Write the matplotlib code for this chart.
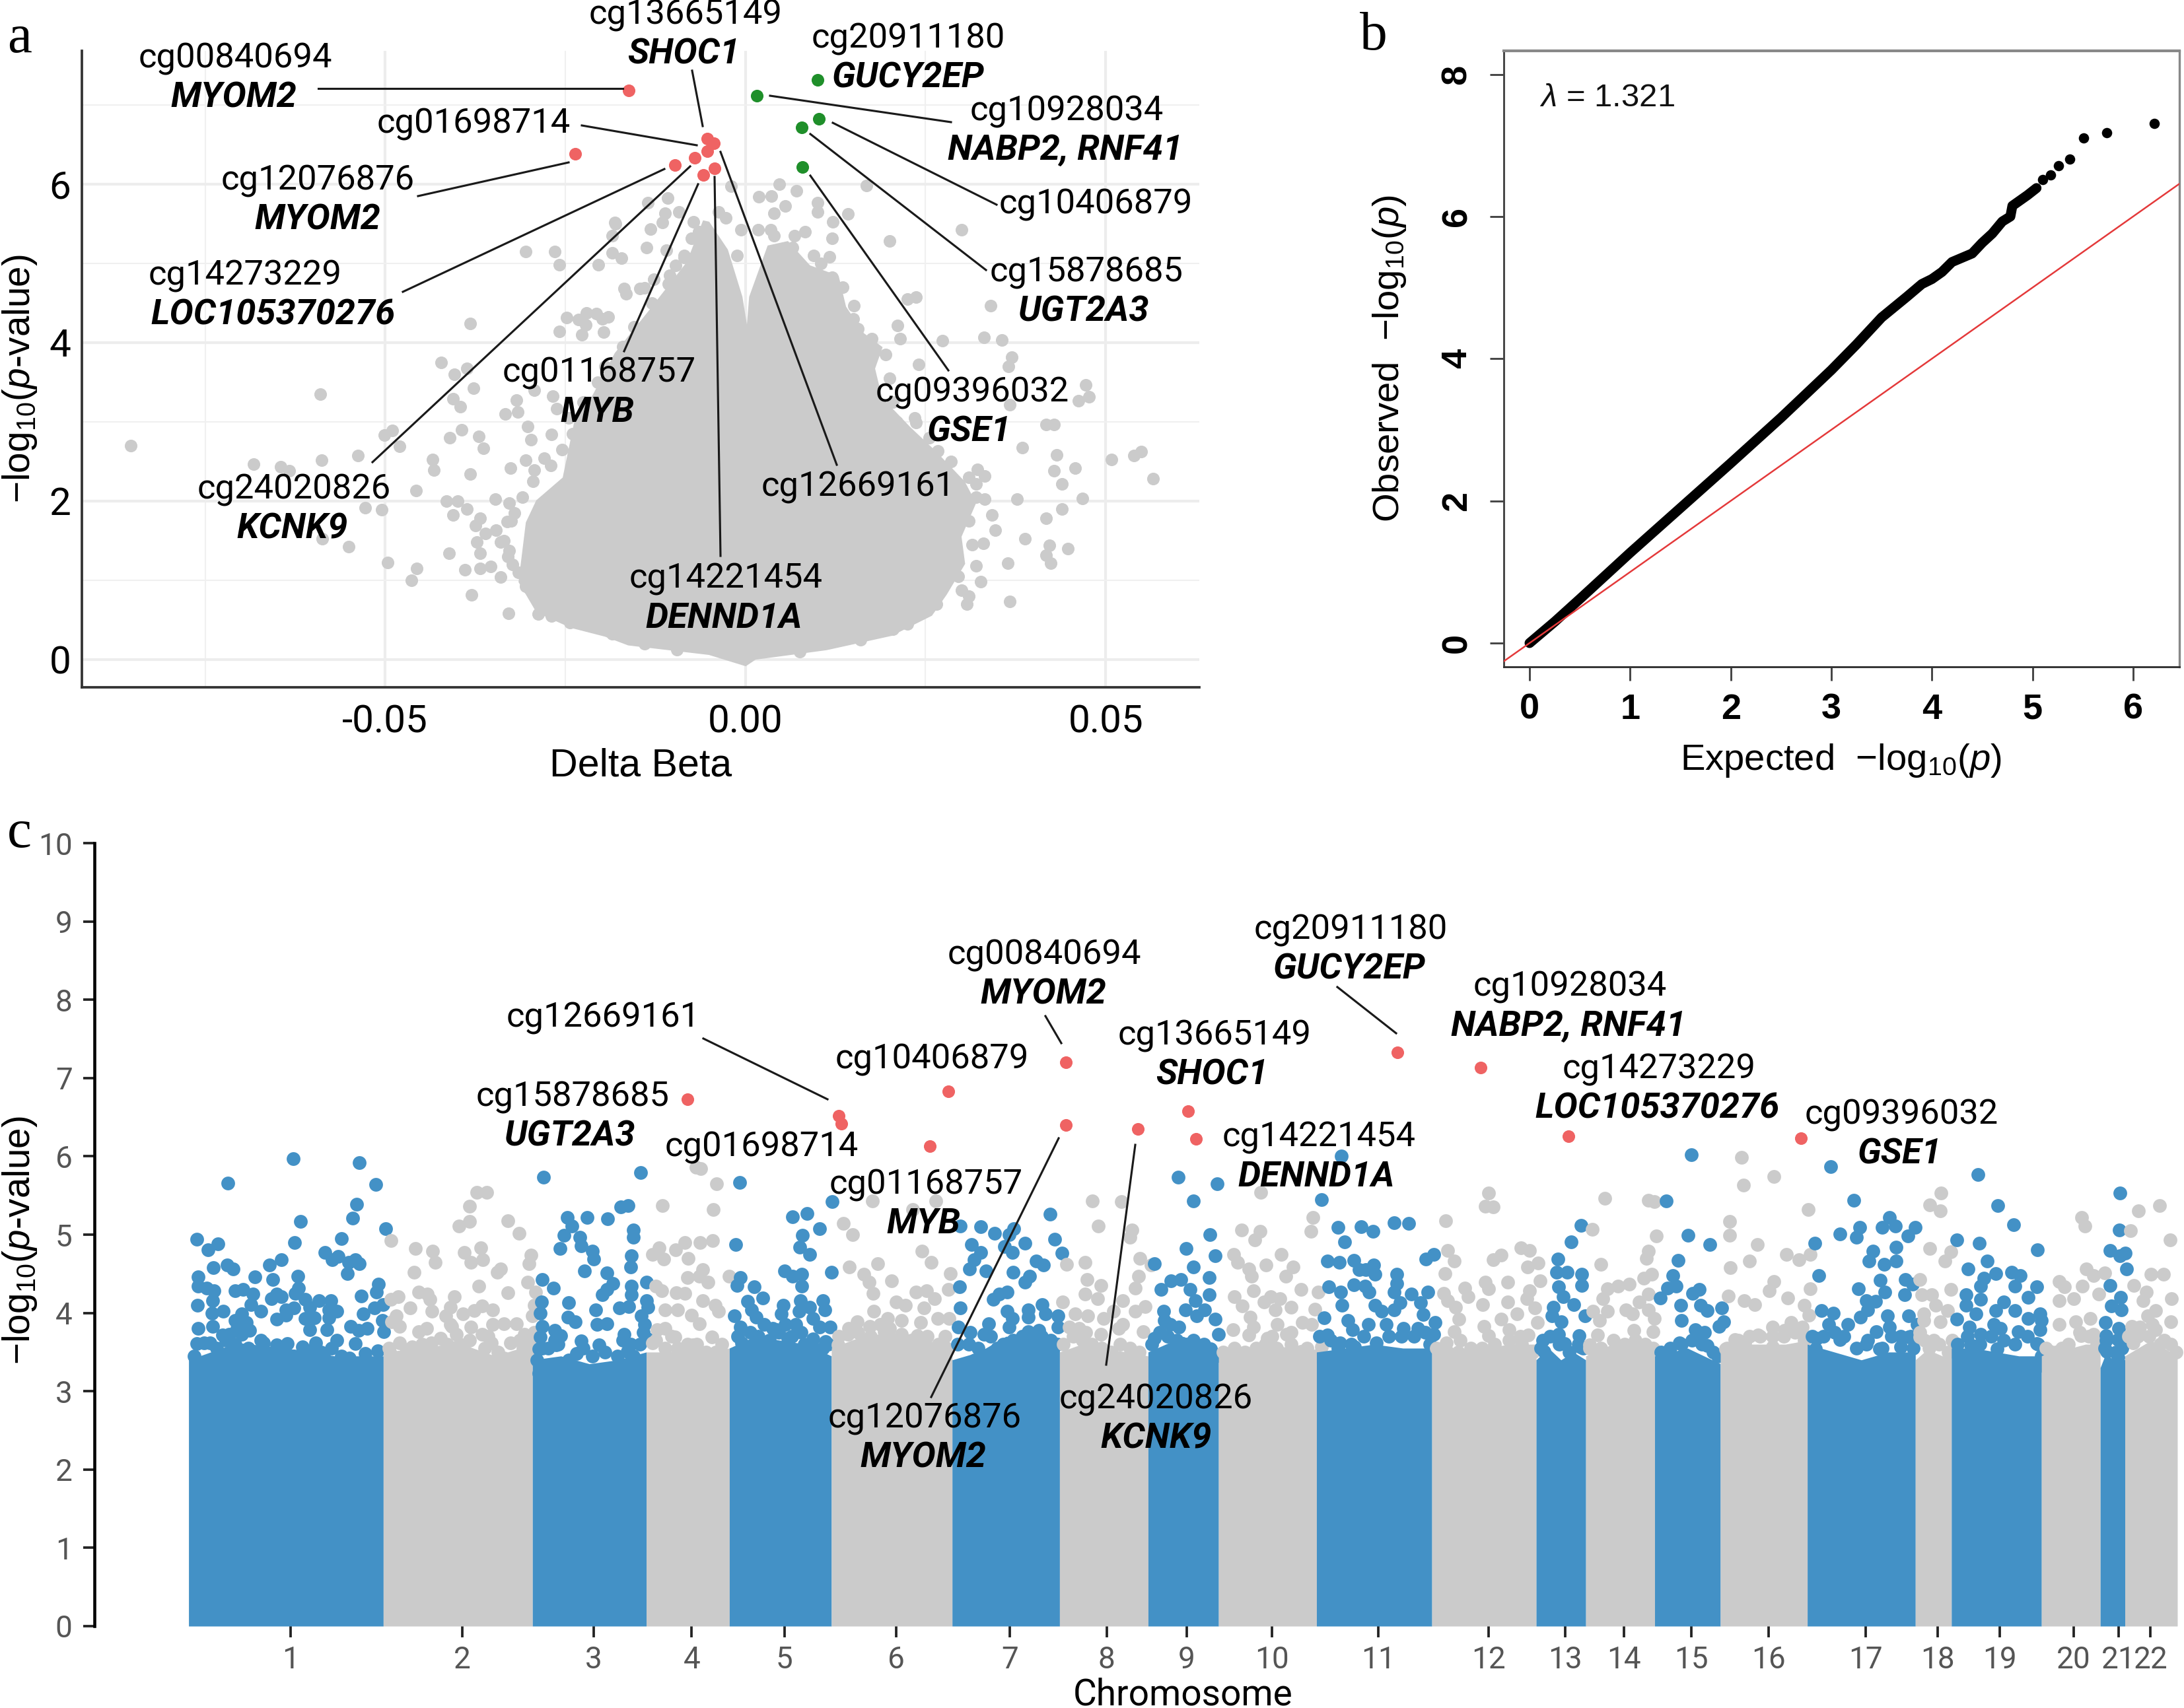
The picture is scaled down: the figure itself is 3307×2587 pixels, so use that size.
import numpy as np
import matplotlib
matplotlib.use("Agg")
import matplotlib.pyplot as plt
from matplotlib.lines import Line2D

W, H = 3307, 2587
plt.rcParams['font.family'] = ['Roboto', 'DejaVu Sans']
plt.rcParams['mathtext.fontset'] = 'custom'
plt.rcParams['mathtext.rm'] = 'Liberation Sans'
plt.rcParams['mathtext.it'] = 'Liberation Sans:italic'
plt.rcParams['mathtext.bf'] = 'Liberation Sans:bold'

GRAY, BLUE, RED, GREEN = '#CBCBCB', '#4391C6', '#EF6363', '#1F8F2A'

# ---------- panel a: volcano ----------
volcano_red = [(-0.0162, 7.18), (-0.0236, 6.38), (-0.0098, 6.24), (-0.0070, 6.33), (-0.0053, 6.57),
               (-0.0044, 6.51), (-0.0053, 6.41), (-0.0043, 6.20), (-0.0058, 6.11)]
volcano_green = [(0.0100, 7.31), (0.0016, 7.11), (0.0102, 6.82), (0.0078, 6.71), (0.0079, 6.21)]
volcano_body_dbeta = [0.0, -0.005, -0.0162, -0.0194, -0.0241, -0.0288, -0.0312, -0.0302, -0.0288, -0.0251, -0.0234,
                      -0.0212, -0.0179, -0.0134, -0.0079, -0.0057, -0.0052, -0.0027, -0.0007, 0.0003, 0.0008,
                      0.0033, 0.0058, 0.0088, 0.0127, 0.0137, 0.0162, 0.0187, 0.0177, 0.0187, 0.0227, 0.0262,
                      0.0302, 0.0317, 0.0297, 0.0302, 0.0277, 0.0257, 0.0202, 0.0112, 0.0013]
volcano_body_logp = [-0.06, 0.08, 0.20, 0.31, 0.42, 0.61, 0.98, 1.72, 1.99, 2.28, 3.03,
                     3.28, 3.85, 4.36, 5.00, 5.51, 5.50, 5.16, 4.57, 4.01, 4.57,
                     5.20, 5.25, 4.95, 4.82, 4.44, 4.10, 3.93, 3.67, 3.29, 2.91, 2.61,
                     2.23, 1.97, 1.55, 1.21, 0.83, 0.57, 0.32, 0.14, 0.02]
volcano_gray = [
 (-0.0853,2.70),(-0.0590,3.35),(-0.0382,4.24),(-0.0422,3.75),(-0.0404,3.60),(-0.0387,3.67),(-0.0377,3.42),
 (-0.0406,3.29),(-0.0396,3.19),(-0.0305,5.15),(-0.0265,5.15),(-0.0258,4.98),(-0.0180,5.50),(-0.0185,5.35),
 (-0.0185,5.13),(-0.0172,5.06),(-0.0204,4.98),(-0.0166,4.61),(-0.0248,4.31),(-0.0221,4.37),(-0.0232,4.29),
 (-0.0199,4.30),(-0.0190,4.32),(-0.0258,4.14),(-0.0227,4.10),(-0.0197,4.13),(-0.0222,4.22),(-0.0318,3.27),
 (-0.0333,3.10),(-0.0316,3.12),(-0.0267,3.32),(-0.0293,3.40),(-0.0262,3.16),(-0.0302,2.94),(-0.0394,2.90),
 (-0.0410,2.80),(-0.0370,2.81),(-0.0364,2.66),(-0.0490,2.89),(-0.0501,2.83),(-0.0480,2.69),(-0.0538,2.57),
 (-0.0588,2.51),(-0.0683,2.46),(-0.0645,2.43),(-0.0633,2.38),(-0.0434,2.52),(-0.0432,2.39),(-0.0382,2.34),
 (-0.0298,2.77),(-0.0269,2.84),(-0.0326,2.41),(-0.0305,2.51),(-0.0293,2.39),(-0.0279,2.54),(-0.0457,2.13),
 (-0.0415,2.00),(-0.0399,2.00),(-0.0387,1.90),(-0.0406,1.82),(-0.0347,2.02),(-0.0328,1.97),(-0.0321,1.85),
 (-0.0528,1.91),(-0.0505,1.89),(-0.0368,1.78),(-0.0375,1.69),(-0.0331,1.74),(-0.0346,1.63),(-0.0373,1.48),
 (-0.0361,1.59),(-0.0340,1.48),(-0.0368,1.34),(-0.0328,1.37),(-0.0323,1.20),(-0.0587,1.52),(-0.0551,1.42),
 (-0.0411,1.34),(-0.0497,1.22),(-0.0456,1.15),(-0.0464,1.00),(-0.0389,1.13),(-0.0368,1.15),(-0.0354,1.17),
 (-0.0340,1.04),(-0.0380,0.81),(-0.0329,0.58),(-0.0288,0.57),(-0.0269,0.55),(-0.0244,0.46),(-0.0305,0.92),
 (0.0300,5.42),(0.0200,5.28),(0.0168,5.98),(0.0047,6.00),(0.0019,5.84),(0.0036,5.85),(0.0071,5.91),(0.0100,5.76),
 (0.0100,5.65),(0.0142,5.62),(0.0055,5.72),(0.0040,5.63),(0.0121,5.52),(0.0083,5.40),(0.0068,5.35),(0.0120,5.31),
 (0.0018,5.42),(0.0035,5.42),(0.0095,5.10),(0.0117,5.08),(-0.0012,5.10),(-0.0006,5.42),(-0.0020,5.97),(-0.0037,5.65),
 (-0.0027,5.57),(0.0120,4.82),(0.0151,4.46),(0.0237,4.57),(0.0225,4.55),(0.0340,4.46),(0.0156,4.17),(0.0211,4.21),
 (0.0273,4.02),(0.0331,4.06),(0.0356,4.03),(0.0140,4.01),(0.0215,4.05),(0.0370,3.81),(0.0365,3.70),(0.0240,3.72),
 (0.0472,3.46),(0.0477,3.31),(0.0462,3.26),(0.0417,2.96),(0.0428,2.96),(0.0367,3.21),(0.0210,3.00),(0.0237,2.99),
 (0.0384,2.67),(0.0432,2.58),(0.0508,2.52),(0.0539,2.57),(0.0549,2.62),(0.0566,2.28),(0.0458,2.41),(0.0428,2.38),
 (0.0439,2.21),(0.0468,2.03),(0.0377,2.02),(0.0332,2.02),(0.0322,2.40),(0.0332,2.31),(0.0320,2.21),(0.0267,2.63),
 (0.0439,1.90),(0.0417,1.78),(0.0342,1.82),(0.0347,1.63),(0.0330,1.46),(0.0388,1.52),(0.0422,1.44),(0.0448,1.40),
 (0.0417,1.31),(0.0424,1.21),(0.0364,1.21),(0.0320,1.18),(0.0327,0.98),(0.0300,0.87),(0.0310,0.80),(0.0307,0.70),
 (0.0367,0.73),(0.0237,0.57),(0.0205,0.38),
 (-0.0112,5.63),(-0.0132,5.43),(-0.0115,5.51),(-0.0072,5.52),(-0.0108,5.82),(-0.0135,5.76),(-0.0137,5.20),
 (-0.0075,5.31),(-0.0092,5.65),(-0.0085,5.07),(-0.0097,4.97),(-0.0140,4.69),(-0.0127,4.80),(-0.0110,5.16),
 (-0.0107,4.74),(-0.0181,5.51),(-0.0168,4.68),(-0.0146,4.68),(-0.0207,4.36)]
volcano_fringe = [
 (-0.0325,1.75),(-0.0335,1.50),(-0.0330,1.30),(-0.0315,1.10),(-0.0300,0.90),(-0.0285,0.75),(-0.0255,0.65),(-0.0225,0.45),
 (-0.0185,0.32),(-0.0140,0.20),(-0.0095,0.12),(-0.0310,2.05),(-0.0295,2.25),(-0.0270,2.45),(-0.0255,2.65),(-0.0240,2.85),
 (-0.0245,3.05),(-0.0225,3.25),(-0.0205,3.50),(-0.0195,3.70),(-0.0170,3.95),(-0.0155,4.20),(-0.0130,4.50),(-0.0105,4.85),
 (-0.0085,5.10),(-0.0065,5.40),(0.0040,5.35),(0.0065,5.20),(0.0105,5.00),(0.0135,4.70),(0.0150,4.30),(0.0175,4.05),
 (0.0195,3.85),(0.0200,3.55),(0.0205,3.25),(0.0235,3.05),(0.0255,2.80),(0.0285,2.50),(0.0310,2.30),(0.0320,2.05),
 (0.0310,1.75),(0.0315,1.45),(0.0295,1.05),(0.0265,0.70),(0.0225,0.45),(0.0160,0.25),(0.0075,0.10)]

# ---------- panel b: QQ ----------
qq_expected = [0, 0.25, 0.5, 1, 1.5, 2, 2.5, 3, 3.25, 3.5, 3.75, 3.9, 4.0, 4.1, 4.2, 4.3, 4.4, 4.5, 4.6, 4.7, 4.78, 4.8, 4.95, 5.04]
qq_observed = [0, 0.30, 0.62, 1.27, 1.90, 2.53, 3.17, 3.84, 4.20, 4.58, 4.87, 5.05, 5.12, 5.22, 5.36, 5.42, 5.48, 5.63, 5.76, 5.93, 6.00, 6.15, 6.30, 6.40]
qq_top_expected = [5.10, 5.18, 5.26, 5.37, 5.51, 5.74, 6.21]
qq_top_observed = [6.52, 6.58, 6.71, 6.81, 7.10, 7.18, 7.31]

# ---------- panel c: Manhattan ----------
chrom_ends = [12, 628, 1100, 1460, 1723, 2046, 2428, 2768, 3048, 3271, 3581, 3946, 4276, 4433, 4651, 4859, 5134, 5476, 5590, 5875, 6061, 6139, 6305]
chrom_ticks = [335, 877, 1294, 1604, 1897, 2251, 2611, 2917, 3170, 3439, 3776, 4126, 4368, 4554, 4767, 5012, 5319, 5547, 5743, 5977, 6119, 6220]
chrom_labels = [str(i) for i in range(1, 23)]
chrom_tops = [
 [3.40,3.62,3.55,3.45,3.45],[3.50,3.55,3.62,3.45,3.60],[3.40,3.45,3.35,3.40,3.50],[3.50,3.50,3.55,3.50,3.55],
 [3.55,3.70,3.65,3.60,3.45],[3.55,3.70,3.75,3.70,3.50],[3.40,3.50,3.70,3.70,3.65],[3.50,3.60,3.55,3.50,3.45],
 [3.50,3.60,3.70,3.60,3.45],[3.50,3.55,3.60,3.55,3.45],[3.50,3.55,3.60,3.55,3.55],[3.50,3.50,3.55,3.60,3.60],
 [3.40,3.55,3.40,3.50,3.40],[3.45,3.55,3.60,3.60,3.50],[3.45,3.50,3.55,3.45,3.35],[3.55,3.60,3.60,3.60,3.65],
 [3.60,3.50,3.40,3.50,3.50],[3.40,3.50,3.50,3.45,3.45],[3.55,3.55,3.50,3.45,3.45],[3.45,3.55,3.55,3.60,3.60],
 [3.30,3.50,3.40,3.45,3.40],[3.45,3.55,3.65,3.55,3.45]]

chr1_pts = [(344,5.97),(553,5.92),(136,5.66),(605,5.64),(543,5.39),(532,5.21),(365,5.17),(636,5.08),(495,4.95),(37,4.94),(105,4.88),(348,4.90),(73,4.81),(444,4.77),(485,4.72),(305,4.68),(467,4.68),(540,4.68),(518,4.65),(553,4.63),(267,4.61),(135,4.61),(153,4.56),(90,4.58),(515,4.50),(42,4.46),(222,4.46),(357,4.47),(278,4.43),(612,4.37),(42,4.34),(70,4.32),(92,4.28),(160,4.28),(185,4.30),(360,4.32),(215,4.24),(290,4.24),(607,4.27),(558,4.22),(350,4.25),(305,4.21),(275,4.18),(425,4.16),(463,4.16),(380,4.17),(88,4.16),(40,4.10),(122,4.02),(85,4.00),(210,4.11),(240,4.02),(345,4.06),(320,4.04),(395,4.07),(455,4.04),(480,4.02),(600,4.06),(628,4.11),(565,3.99),(180,3.99),(290,3.92),(320,3.97),(380,3.93),(410,3.94),(455,3.94),(42,3.80),(88,3.83),(195,3.88),(160,3.90),(525,3.83),(550,3.78),(578,3.80),(625,3.90),(630,3.76),(395,3.79),(450,3.79),(38,3.61),(240,3.65),(325,3.61),(290,3.59),(415,3.62),(480,3.65),(540,3.61),(372,3.57),(80,3.62),(140,3.73),(180,3.73),
 (60,3.62),(100,3.55),(130,3.65),(165,3.80),(205,3.78),(120,3.72),(250,3.62),(300,3.52),(345,3.45),(395,3.52),(430,3.50),(465,3.55),(495,3.45),(520,3.42),(570,3.48),(610,3.52),(440,3.45),(200,3.55),(160,3.60),(30,3.45)]
chr2_pts = [(925,5.54),(955,5.54),(900,5.36),(1022,5.18),(902,5.17),(868,5.11),(1057,5.02),(652,4.92),(730,4.82),(784,4.79),(937,4.83),(885,4.77),(1095,4.74),(793,4.65),(905,4.65),(942,4.68),(1090,4.63),(1000,4.56),(988,4.52),(725,4.52),(1085,4.39),(930,4.34),(740,4.27),(768,4.24),(1022,4.26),(675,4.21),(652,4.17),(852,4.21),(775,4.17),(1110,4.27),(712,4.06),(782,4.02),(840,4.07),(940,4.09),(975,4.04),(915,4.03),(880,3.99),(670,3.96),(1105,4.10),(680,3.83),(655,3.89),(825,3.96),(1100,3.96),(975,3.85),(1010,3.86),(1050,3.86),(765,3.80),(740,3.76),(845,3.83),(905,3.82),(940,3.73),(1075,3.73),(680,3.62),(645,3.55),(860,3.73),(810,3.68),(1030,3.62),(970,3.62),(720,3.57),(780,3.62),(1000,3.43),
 (650,3.48),(700,3.50),(750,3.60),(790,3.50),(830,3.60),(870,3.60),(900,3.65),(950,3.55),(990,3.50),(1010,3.42),(1050,3.42),(1070,3.55),(1090,3.62),(1105,3.75),(1110,3.55),(960,3.70),(840,3.85),(1060,3.65)]
chr3_pts = [(1135,5.73),(1443,5.79),(1403,5.37),(1380,5.35),(1210,5.22),(1272,5.22),(1337,5.20),(1225,5.11),(1420,5.06),(1420,4.97),(1200,4.99),(1250,4.97),(1255,4.86),(1187,4.82),(1290,4.79),(1412,4.73),(1293,4.69),(1411,4.59),(1265,4.54),(1335,4.51),(1130,4.43),(1460,4.39),(1355,4.38),(1167,4.32),(1412,4.34),(1335,4.30),(1412,4.23),(1320,4.23),(1128,4.14),(1215,4.13),(1460,4.16),(1125,4.00),(1300,4.04),(1375,4.06),(1405,4.08),(1465,4.07),(1212,3.95),(1235,3.89),(1305,3.85),(1335,3.86),(1445,3.96),(1130,3.83),(1170,3.78),(1190,3.71),(1455,3.85),(1390,3.73),(1125,3.69),(1255,3.64),(1310,3.59),(1460,3.68),(1175,3.59),(1240,3.48),(1400,3.51),(1120,3.54),(1120,3.23),
 (1115,3.40),(1150,3.55),(1180,3.60),(1215,3.40),(1260,3.55),(1290,3.45),(1330,3.50),(1370,3.45),(1420,3.45),(1440,3.60),(1450,3.75),(1385,3.65),(1410,3.60),(1170,3.65),(1130,3.55)]
chr4_pts = [(1512,5.37),(1500,4.83),(1480,4.75),(1515,4.69),(1552,4.81),(1490,4.34),(1510,4.28),(1555,4.26),(1520,4.04),(1560,4.04),(1495,3.79),(1550,3.69),(1480,3.62),(1633,5.84),(1618,5.86),(1683,5.65),(1673,5.32),(1583,4.90),(1631,4.90),(1670,4.92),(1593,4.70),(1638,4.55),(1590,4.45),(1656,4.39),(1628,4.47),(1583,4.25),(1638,4.16),(1678,4.10),(1603,3.97),(1628,3.86),(1688,4.02),(1668,3.69),(1723,4.47),(1608,3.59),
 (1490,3.65),(1520,3.55),(1560,3.55),(1590,3.60),(1620,3.60),(1650,3.50),(1680,3.50),(1700,3.60),(1540,3.70),(1520,3.80)]
chr5_pts = [(1755,5.67),(2049,5.42),(1968,5.27),(1923,5.23),(2008,5.08),(1954,4.99),(1743,4.87),(1945,4.84),(1978,4.75),(1898,4.54),(2046,4.52),(1758,4.45),(1923,4.47),(1953,4.49),(1748,4.35),(1953,4.34),(1801,4.33),(1828,4.19),(1780,4.15),(1948,4.16),(2020,4.16),(1893,4.10),(2026,4.04),(1793,4.04),(1978,4.07),(1888,3.99),(1738,3.96),(1943,4.02),(1808,3.95),(1988,3.93),(1833,3.85),(1873,3.79),(1933,3.85),(2043,3.82),(2008,3.82),(1758,3.82),(1988,3.67),(2028,3.63),(1763,3.62),(1908,3.68),
 (1750,3.70),(1790,3.75),(1815,3.70),(1850,3.65),(1880,3.75),(1920,3.70),(1960,3.60),(1990,3.55),(2020,3.55),(2035,3.60),(1860,3.80),(1900,3.85),(1950,3.75)]
chr6_pts = [(2176,5.43),(2376,5.43),(2303,5.32),(2083,5.14),(2113,5.00),(2333,4.79),(2361,4.65),(2193,4.63),(2103,4.59),(2423,4.50),(2148,4.49),(2166,4.39),(2236,4.41),(2416,4.30),(2178,4.25),(2313,4.27),(2348,4.28),(2373,4.18),(2250,4.14),(2280,4.10),(2338,4.06),(2180,4.02),(2223,3.93),(2268,3.90),(2383,3.93),(2128,3.89),(2168,3.83),(2328,3.88),(2418,3.93),(2098,3.73),(2213,3.76),(2148,3.65),(2268,3.73),(2318,3.71),(2068,3.59),
 (2070,3.70),(2100,3.80),(2130,3.75),(2170,3.70),(2200,3.85),(2230,3.80),(2260,3.65),(2300,3.65),(2350,3.70),(2385,3.60),(2410,3.55),(2405,3.70)]
chr7_pts = [(2738,5.26),(2453,5.11),(2518,5.10),(2563,5.02),(2623,5.08),(2608,5.00),(2753,4.94),(2658,4.89),(2490,4.87),(2518,4.77),(2593,4.85),(2618,4.77),(2775,4.76),(2498,4.68),(2693,4.66),(2718,4.61),(2483,4.56),(2536,4.54),(2621,4.52),(2673,4.47),(2658,4.39),(2451,4.33),(2603,4.27),(2578,4.24),(2558,4.17),(2453,4.06),(2713,4.11),(2668,4.04),(2603,4.02),(2723,3.99),(2763,3.96),(2668,3.95),(2618,3.93),(2448,3.82),(2543,3.86),(2608,3.82),(2486,3.75),(2528,3.73),(2668,3.76),(2703,3.78),(2763,3.82),
 (2445,3.60),(2480,3.60),(2510,3.55),(2550,3.70),(2590,3.60),(2620,3.65),(2650,3.70),(2680,3.70),(2710,3.70),(2740,3.65),(2760,3.60),(2570,3.55),(2500,3.40)]
chr8_pts = [(2871,5.43),(2963,5.42),(2890,5.11),(2998,5.06),(2990,4.97),(3023,4.70),(2848,4.65),(2790,4.62),(3058,4.61),(2855,4.43),(2898,4.35),(3018,4.47),(3008,4.32),(2848,4.24),(2778,4.14),(2888,4.18),(2968,4.16),(3038,4.08),(2818,3.99),(2938,4.02),(3008,4.02),(2858,3.96),(2908,3.93),(2798,3.82),(2968,3.85),(3033,3.76),(2898,3.73),
 (2780,3.60),(2810,3.70),(2840,3.65),(2870,3.60),(2900,3.55),(2930,3.50),(2960,3.60),(2990,3.55),(3020,3.50),(2830,3.80),(2850,3.75),(2955,3.80)]
chr9_pts = [(3143,5.73),(3068,4.63),(3120,4.41),(3088,4.30),(3098,4.02),(3068,3.68),(3118,3.85),(3266,5.65),(3192,5.43),(3244,5.00),(3169,4.82),(3261,4.73),(3191,4.59),(3241,4.45),(3151,4.43),(3181,4.30),(3241,4.23),(3198,4.16),(3166,4.04),(3226,4.04),(3201,3.96),(3261,3.92),(3271,3.73),(3146,3.82),(3191,3.65),(3246,3.54),
 (3060,3.60),(3085,3.75),(3110,3.70),(3140,3.65),(3170,3.60),(3200,3.55),(3225,3.60),(3250,3.50),(3262,3.45),(3100,3.90)]
chr10_pts = [(3404,5.54),(3569,5.22),(3563,5.04),(3344,5.06),(3403,5.04),(3386,4.93),(3319,4.75),(3469,4.75),(3331,4.65),(3421,4.61),(3506,4.59),(3366,4.56),(3376,4.47),(3484,4.47),(3533,4.30),(3586,4.27),(3381,4.28),(3321,4.21),(3436,4.21),(3466,4.18),(3416,4.14),(3451,4.04),(3346,4.09),(3501,4.07),(3576,4.05),(3371,3.95),(3456,3.85),(3536,3.88),(3381,3.82),(3316,3.79),(3566,3.85),(3366,3.72),(3426,3.68),(3486,3.73),(3326,3.52),(3531,3.51),(3596,3.57),
 (3285,3.50),(3320,3.55),(3355,3.50),(3390,3.55),(3420,3.60),(3455,3.55),(3500,3.60),(3530,3.50),(3550,3.55),(3575,3.45),(3440,3.70),(3500,3.75)]
chr11_pts = [(3659,6.00),(3596,5.45),(3826,5.15),(3873,5.14),(3649,5.09),(3723,5.10),(3759,5.04),(3669,4.91),(3951,4.75),(3926,4.69),(3616,4.66),(3654,4.65),(3699,4.67),(3761,4.61),(3736,4.55),(3716,4.55),(3766,4.49),(3836,4.49),(3619,4.33),(3699,4.36),(3734,4.34),(3658,4.27),(3748,4.27),(3836,4.38),(3881,4.24),(3933,4.27),(3826,4.27),(3661,4.10),(3766,4.10),(3911,4.13),(3846,4.13),(3826,4.04),(3786,4.02),(3606,3.94),(3919,3.98),(3681,3.90),(3746,3.85),(3956,3.88),(3616,3.72),(3696,3.79),(3801,3.85),(3856,3.80),(3901,3.80),(3951,3.73),(3771,3.62),(3656,3.62),(3701,3.57),
 (3590,3.70),(3625,3.65),(3650,3.55),(3690,3.60),(3730,3.70),(3770,3.55),(3810,3.70),(3850,3.70),(3890,3.70),(3925,3.75),(3940,3.60)]
chr12_pts = [(4126,5.53),(4116,5.36),(4141,5.35),(3989,5.18),(4228,4.83),(3996,4.80),(4256,4.80),(4166,4.74),(4141,4.68),(4016,4.66),(4283,4.64),(4248,4.59),(3988,4.50),(4116,4.39),(4186,4.39),(4289,4.41),(4051,4.32),(4126,4.31),(4256,4.28),(3984,4.25),(4061,4.21),(4246,4.18),(3996,4.16),(4106,4.11),(4186,4.14),(4021,4.07),(4271,4.06),(4216,3.99),(4166,3.92),(4031,3.92),(4281,3.88),(4111,3.83),(4016,3.76),(4191,3.79),(3991,3.62),(4251,3.72),(4036,3.65),(4126,3.71),
 (3960,3.55),(3995,3.50),(4030,3.50),(4070,3.55),(4105,3.55),(4145,3.60),(4190,3.65),(4230,3.60),(4265,3.50),(4225,3.70)]
chr13_pts = [(4419,5.12),(4386,4.91),(4344,4.69),(4341,4.52),(4374,4.52),(4421,4.49),(4421,4.35),(4348,4.33),(4361,4.21),(4396,4.11),(4331,4.07),(4431,3.96),(4326,3.96),(4356,3.89),(4346,3.73),(4411,3.71),(4296,3.65),(4366,3.61),(4416,3.57),(4301,3.51),
 (4290,3.55),(4320,3.70),(4350,3.60),(4380,3.50),(4410,3.60),(4425,3.55)]
chr14_pts = [(4494,5.46),(4631,5.44),(4651,5.42),(4454,5.07),(4656,4.98),(4631,4.79),(4481,4.62),(4624,4.70),(4641,4.49),(4616,4.44),(4571,4.37),(4536,4.34),(4501,4.31),(4486,4.18),(4631,4.24),(4601,4.14),(4456,4.02),(4501,4.02),(4561,4.04),(4581,3.99),(4631,4.04),(4476,3.90),(4651,3.93),(4471,3.72),(4586,3.78),(4646,3.76),(4446,3.59),
 (4445,3.55),(4480,3.55),(4515,3.50),(4555,3.60),(4590,3.65),(4620,3.60),(4645,3.55),(4520,3.65)]
chr15_pts = [(4688,5.43),(4668,4.19),(4691,4.32),(4766,6.02),(4756,4.99),(4826,4.87),(4725,4.67),(4709,4.48),(4720,4.34),(4792,4.30),(4771,4.25),(4733,4.10),(4797,4.10),(4818,4.03),(4863,4.06),(4735,3.90),(4870,3.89),(4854,3.83),(4779,3.79),(4808,3.75),(4730,3.62),(4818,3.58),
 (4670,3.50),(4700,3.55),(4735,3.60),(4770,3.65),(4800,3.60),(4835,3.50),(4850,3.45),(4790,3.75)]
chr16_pts = [(4926,5.99),(5029,5.74),(4932,5.63),(5137,5.32),(4888,5.17),(4888,4.99),(4976,4.87),(5069,4.75),(5144,4.75),(5108,4.68),(4951,4.66),(4890,4.58),(5028,4.40),(5013,4.28),(5144,4.31),(4884,4.22),(4934,4.16),(5072,4.19),(4968,4.11),(5124,4.10),(5139,3.97),(5082,3.88),(5025,3.82),(5118,3.82),(4979,3.72),(4906,3.66),(5061,3.78),(4875,3.54),(4937,3.62),(5025,3.57),
 (4880,3.55),(4915,3.65),(4950,3.70),(4985,3.70),(5025,3.70),(5060,3.70),(5095,3.75),(5115,3.80),(5125,3.65)]
chr17_pts = [(5208,5.87),(5282,5.44),(5395,5.22),(5300,5.09),(5372,5.09),(5412,5.11),(5476,5.09),(5238,5.01),(5289,4.97),(5453,4.98),(5157,4.89),(5414,4.84),(5341,4.79),(5329,4.66),(5377,4.62),(5414,4.66),(5170,4.48),(5364,4.42),(5445,4.43),(5468,4.37),(5295,4.31),(5380,4.27),(5443,4.23),(5320,4.16),(5351,4.15),(5178,4.03),(5217,4.00),(5326,4.04),(5388,3.96),(5455,3.96),(5303,3.95),(5263,3.85),(5201,3.85),(5393,3.82),(5481,3.85),(5352,3.76),(5165,3.68),(5238,3.66),(5326,3.65),(5455,3.69),(5362,3.54),(5160,3.54),(5429,3.57),
 (5150,3.70),(5185,3.70),(5220,3.75),(5250,3.70),(5290,3.55),(5320,3.60),(5370,3.55),(5400,3.70),(5430,3.70),(5460,3.70),(5470,3.55)]
chr18_pts = [(5556,5.53),(5522,5.38),(5554,5.30),(5522,4.82),(5588,4.78),(5569,4.66),(5491,4.43),(5588,4.30),(5528,4.23),(5497,4.23),(5541,4.10),(5577,4.03),(5502,3.99),(5554,3.89),(5502,3.90),(5491,3.69),(5533,3.65),(5593,3.65),
 (5490,3.75),(5520,3.55),(5550,3.60),(5580,3.50),(5505,3.65)]
chr19_pts = [(5673,5.77),(5737,5.37),(5787,5.13),(5608,4.93),(5678,4.89),(5862,4.81),(5704,4.66),(5642,4.56),(5730,4.50),(5781,4.52),(5807,4.48),(5693,4.44),(5683,4.34),(5792,4.34),(5859,4.33),(5636,4.23),(5683,4.17),(5833,4.20),(5756,4.14),(5636,4.10),(5730,4.03),(5792,4.03),(5668,3.99),(5607,3.92),(5870,3.99),(5875,3.90),(5833,3.93),(5647,3.82),(5724,3.85),(5802,3.76),(5870,3.79),(5683,3.73),(5859,3.61),(5652,3.59),(5735,3.54),(5875,3.33),
 (5610,3.60),(5640,3.70),(5680,3.60),(5715,3.70),(5755,3.65),(5790,3.60),(5830,3.70),(5865,3.60),(5875,3.45),(5745,3.80)]
chr20_pts = [(6003,5.22),(6012,5.11),(5930,4.40),(6017,4.56),(6075,4.51),(5947,4.33),(6040,4.48),(6004,4.34),(6056,4.24),(5978,4.18),(5932,4.16),(5932,3.85),(6030,3.93),(5983,3.89),(5901,3.51),(5999,3.71),(5947,3.48),(6040,3.73),
 (5890,3.55),(5920,3.50),(5960,3.60),(5995,3.75),(6025,3.70),(6050,3.60),(5940,3.55)]
chr21_pts = [(6123,5.53),(6122,5.06),(6092,4.80),(6139,4.76),(6123,4.73),(6144,4.56),(6092,4.35),(6125,4.20),(6097,4.09),(6128,4.04),(6077,3.88),(6120,3.80),(6079,3.71),(6118,3.66),(6082,3.51),(6118,3.43),
 (6075,3.55),(6110,3.50),(6130,3.55),(6080,3.65)]
chr22_pts = [(6182,5.30),(6248,5.37),(6157,5.05),(6283,4.93),(6222,4.49),(6261,4.49),(6168,4.35),(6206,4.27),(6286,4.18),(6196,4.16),(6237,4.03),(6211,3.96),(6284,3.89),(6160,3.83),(6237,3.79),(6185,3.82),(6263,3.65),(6165,3.62),
 (6150,3.70),(6180,3.70),(6215,3.70),(6250,3.60),(6285,3.60),(6300,3.50),(6225,3.85)]
chrom_points = [chr1_pts, chr2_pts, chr3_pts, chr4_pts, chr5_pts, chr6_pts, chr7_pts, chr8_pts, chr9_pts, chr10_pts, chr11_pts,
                chr12_pts, chr13_pts, chr14_pts, chr15_pts, chr16_pts, chr17_pts, chr18_pts, chr19_pts, chr20_pts, chr21_pts, chr22_pts]
manhattan_red = [(1591,6.73),(2069,6.52),(2078,6.42),(2416,6.83),(2357,6.13),(2788,7.20),(2788,6.40),(3016,6.35),(3175,6.58),
                 (3200,6.22),(3837,7.33),(4101,7.13),(4379,6.26),(5114,6.23)]

# ---------- annotations ----------
R = 2.109
labels_a = [("cg13665149","SHOC1",492,10,491),("cg20911180","GUCY2EP",652,27,652),("cg00840694","MYOM2",169,41,168),
            ("cg10928034","NABP2, RNF41",766,79,765),("cg01698714",None,340,88,0),("cg12076876","MYOM2",228,129,228),
            ("cg10406879",None,787,146,0),("cg14273229","LOC105370276",176,197,196),("cg15878685","UGT2A3",780,195,778),
            ("cg01168757","MYB",430,267,429),("cg09396032","GSE1",698,281,696),("cg12669161",None,616,349,0),
            ("cg24020826","KCNK9",211,351,210),("cg14221454","DENND1A",521,415,520)]
labels_c = [("cg12669161",None,433,730,0),("cg15878685","UGT2A3",411,787,409),("cg01698714",None,547,823,0),
            ("cg10406879",None,669,760,0),("cg00840694","MYOM2",750,685,749),("cg01168757","MYB",665,850,663),
            ("cg12076876","MYOM2",664,1018,663),("cg24020826","KCNK9",830,1004,830),("cg13665149","SHOC1",872,743,870),
            ("cg14221454","DENND1A",947,816,945),("cg20911180","GUCY2EP",970,667,969),("cg10928034","NABP2, RNF41",1127,708,1126),
            ("cg14273229","LOC105370276",1191,767,1190),("cg09396032","GSE1",1365,800,1364)]
leaders = [((482,134),(943,134)),((1048,107),(1064,191)),((1166,145),(1440,185)),((1261,186),(1509,310)),((1227,203),(1493,409)),
           ((1227,266),(1436,561)),((881,190),(1055,220)),((633,297),(861,246)),((610,442),(1006,256)),((564,700),(1045,252)),
           ((945,532),(1057,279)),((1091,842),(1082,268)),((1267,704),(1091,230)),
           ((1065,1573),(1253,1665)),((1583,1539),(1607,1580)),((1603,1724),(1410,2116)),((1719,1734),(1675,2067)),((2025,1495),(2114,1565))]

fig = plt.figure(figsize=(W/300, H/300), dpi=300, facecolor='white')

def rect(l, t, r, b):
    return [l/W, 1-b/H, (r-l)/W, (b-t)/H]

def px(x, y):
    return x/W, 1-y/H

S_A, S_C, S_R = 21, 25, 21

# ---- a ----
ax = fig.add_axes(rect(124, 77, 1816, 1041))
ax.set_xlim(-0.0921, 0.0630)
ax.set_ylim(-0.354, 7.68)
ax.set_axisbelow(True)
ax.set_xticks([-0.05, 0, 0.05], ['-0.05', '0.00', '0.05'])
ax.set_yticks([0, 2, 4, 6])
ax.set_xticks([-0.075, -0.025, 0.025], minor=True)
ax.set_yticks([1, 3, 5, 7], minor=True)
ax.grid(True, which='major', color='#EDEDED', lw=1.0)
ax.grid(True, which='minor', color='#F0F0F0', lw=0.5)
ax.tick_params(which='both', length=0)
ax.tick_params(axis='x', labelsize=14, pad=6, labelcolor='black')
ax.tick_params(axis='y', labelsize=14, pad=4, labelcolor='black')
for s in ('top', 'right'):
    ax.spines[s].set_visible(False)
for s in ('left', 'bottom'):
    ax.spines[s].set_color('#333333')
    ax.spines[s].set_linewidth(0.9)
ax.fill(volcano_body_dbeta, volcano_body_logp, color=GRAY, lw=1.5, zorder=2)
g = np.array(volcano_gray + volcano_fringe)
ax.scatter(g[:, 0], g[:, 1], s=S_A, color=GRAY, lw=0, zorder=2)
r_ = np.array(volcano_red)
ax.scatter(r_[:, 0], r_[:, 1], s=S_R, color=RED, lw=0, zorder=3)
g_ = np.array(volcano_green)
ax.scatter(g_[:, 0], g_[:, 1], s=S_R, color=GREEN, lw=0, zorder=3)

# ---- b ----
bx = fig.add_axes(rect(2277, 77, 3300, 1010))
bx.set_xlim(-0.256, 6.46)
bx.set_ylim(-0.334, 8.33)
bx.plot(qq_expected, qq_observed, color='black', lw=3.6, solid_capstyle='round', zorder=2)
bx.scatter(qq_top_expected, qq_top_observed, s=14, color='black', lw=0, zorder=2)
bx.plot([-1, 7], [-1, 7], color='#E4393A', lw=0.6, zorder=3)
bx.set_xticks(range(0, 7))
bx.set_yticks(range(0, 9, 2))
bx.tick_params(length=5, width=0.7, color='#444444')
bx.tick_params(axis='x', pad=4.5)
bx.tick_params(axis='y', pad=6)
for t in bx.get_xticklabels():
    t.set_fontfamily('Liberation Sans'); t.set_fontweight('bold'); t.set_fontsize(13)
for t in bx.get_yticklabels():
    t.set_fontfamily('Liberation Sans'); t.set_fontweight('bold'); t.set_fontsize(13)
    t.set_rotation(90); t.set_va('center')
for s, c, w in (('top', '#888888', 1.0), ('right', '#888888', 0.8), ('left', '#444444', 0.7), ('bottom', '#333333', 0.7)):
    bx.spines[s].set_color(c); bx.spines[s].set_linewidth(w)
bx.text(0.10, 7.67, r'$\lambda$ = 1.321', fontsize=11.8, family='Liberation Sans', va='center', ha='left', color='#111111')

# ---- c ----
cx = fig.add_axes(rect(143, 1277, 3307, 2463))
cx.set_xlim(-286, 6326)
cx.set_ylim(0, 10)
for i, (top, pts) in enumerate(zip(chrom_tops, chrom_points)):
    col = BLUE if i % 2 == 0 else GRAY
    xs = np.linspace(chrom_ends[i], chrom_ends[i+1], len(top))
    cx.fill_between(xs, 0, top, color=col, lw=0, zorder=2)
    p = np.array(pts)
    cx.scatter(p[:, 0], p[:, 1], s=S_C, color=col, lw=0, zorder=2)
m = np.array(manhattan_red)
cx.scatter(m[:, 0], m[:, 1], s=S_R, color=RED, lw=0, zorder=3)
cx.set_xticks(chrom_ticks, chrom_labels)
cx.set_yticks(range(0, 11))
cx.tick_params(axis='both', labelsize=11, labelcolor='#555555', length=4, width=0.9, color='#222222', pad=4)
cx.tick_params(axis='x', pad=3)
for s in ('top', 'right', 'bottom'):
    cx.spines[s].set_visible(False)
cx.spines['left'].set_linewidth(1.1)
cx.spines['left'].set_color('black')
cx.patch.set_alpha(0)

# ---- text & leaders ----
for labs in (labels_a, labels_c):
    for probe, gene, xc, yc, xg in labs:
        fig.text(*px(xc*R, (yc+1)*R), probe, fontsize=12.6, ha='center', va='center', color='black', zorder=10)
        if gene:
            fig.text(*px(xg*R, (yc+29)*R), gene, fontsize=13, ha='center', va='center', color='black',
                     fontweight='bold', fontstyle='italic', zorder=10)
for (a, b) in leaders:
    fa, fb = px(*a), px(*b)
    fig.add_artist(Line2D([fa[0], fb[0]], [fa[1], fb[1]], color='#1A1A1A', lw=0.75, zorder=9))

LOGP = r'$-\mathrm{log}_{10}(\mathit{p}\mathrm{\text{-}value})$'
fig.text(*px(30, 574), LOGP, rotation=90, fontsize=13.6, ha='center', va='center')
fig.text(*px(30, 1879), LOGP, rotation=90, fontsize=13.6, ha='center', va='center')
fig.text(*px(970, 1160), 'Delta Beta', fontsize=14.2, family='Liberation Sans', ha='center', va='center')
fig.text(*px(1791, 2567), 'Chromosome', fontsize=13.2, ha='center', va='center')
fig.text(*px(2787, 1152), r'Expected  $-\mathrm{log}_{10}(\mathit{p})$', fontsize=13.5, family='Liberation Sans', ha='center', va='center')
fig.text(*px(2104, 543), r'Observed  $-\mathrm{log}_{10}(\mathit{p})$', rotation=90, fontsize=13.5, family='Liberation Sans', ha='center', va='center')
for s, x, y in (('a', 14, 28), ('b', 986, 26), ('c', 14, 599)):
    fig.text(*px(x*R, y*R), s, fontsize=20, family='Liberation Serif', ha='center', va='center')

fig.savefig('out.png', dpi=300)
